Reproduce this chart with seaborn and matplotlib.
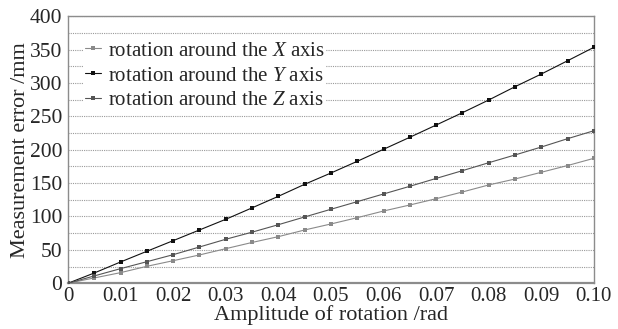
import numpy as np
import pandas as pd
import matplotlib
matplotlib.use("Agg")
import matplotlib.pyplot as plt
import seaborn as sns
from matplotlib.ticker import MultipleLocator

amplitude = [0, 0.005, 0.01, 0.015, 0.02, 0.025, 0.03, 0.035, 0.04, 0.045, 0.05,
             0.055, 0.06, 0.065, 0.07, 0.075, 0.08, 0.085, 0.09, 0.095, 0.1]
err_x = [0, 8, 15.9, 25.4, 33.8, 42.4, 51.8, 61.1, 69.8, 79.8, 88.8,
         98.2, 108.2, 117.2, 126.6, 136.7, 147.2, 156.1, 166.2, 176.3, 187.1]
err_y = [0, 15.4, 31.9, 47.9, 63.8, 79.8, 95.8, 112.9, 130.2, 148.2, 165.1,
         182.6, 200.6, 218.6, 236.9, 255.4, 274.4, 294.3, 313.3, 333.2, 353.3]
err_z = [0, 11, 21.9, 32.3, 42.8, 54.3, 65.9, 76.5, 87.7, 99.3, 110.8,
         122.2, 133.7, 145.2, 157.0, 168.6, 180.5, 192.1, 204.0, 216.5, 228.4]
labels = [r"rotation around the $\mathit{X}$ axis",
          r"rotation around the $\mathit{Y}$ axis",
          r"rotation around the $\mathit{Z}$ axis"]
colors = ["#8a8a8a", "#111111", "#555555"]
x_ticks = [0, 0.01, 0.02, 0.03, 0.04, 0.05, 0.06, 0.07, 0.08, 0.09, 0.10]
x_tick_labels = ["0", "0.01", "0.02", "0.03", "0.04", "0.05", "0.06", "0.07", "0.08", "0.09", "0.10"]

sns.set_style("white")
plt.rcParams["font.family"] = ["Liberation Serif", "DejaVu Serif"]
plt.rcParams["mathtext.fontset"] = "custom"
plt.rcParams["mathtext.it"] = "Liberation Serif:italic"
plt.rcParams["mathtext.rm"] = "Liberation Serif"

df = pd.DataFrame({
    "amp": amplitude * 3,
    "err": err_x + err_y + err_z,
    "series": [labels[0]] * len(amplitude) + [labels[1]] * len(amplitude) + [labels[2]] * len(amplitude),
})

fig = plt.figure(figsize=(6.18, 3.29), dpi=100)
ax = fig.add_axes([0.110, 0.139, 0.851, 0.812])

sns.lineplot(data=df, x="amp", y="err", hue="series", hue_order=labels,
             palette=dict(zip(labels, colors)), style="series",
             markers={l: "s" for l in labels}, dashes=False,
             markersize=2.3, markeredgewidth=0, linewidth=0.8, ax=ax, zorder=3)

ax.set_xlim(0, 0.1)
ax.set_ylim(0, 400)
ax.set_xticks(x_ticks)
ax.set_xticklabels(x_tick_labels)
ax.yaxis.set_major_locator(MultipleLocator(50))
ax.yaxis.set_minor_locator(MultipleLocator(25))
ax.grid(True, axis="y", which="both", linestyle=(0, (1, 1)), color="#9a9a9a", linewidth=0.8)
ax.grid(False, axis="x")
ax.tick_params(axis="x", direction="in", length=5, color="#999999", labelsize=15, pad=3)
ax.tick_params(axis="y", length=0, labelsize=15.5, pad=4)
ax.tick_params(axis="y", which="minor", length=0)
for s in ax.spines.values():
    s.set_color("#8c8c8c")
    s.set_linewidth(1.0)
ax.spines["bottom"].set_linewidth(1.6)
ax.set_xlabel("Amplitude of rotation /rad", fontsize=16, labelpad=-1)
ax.set_ylabel("Measurement error /mm", fontsize=16, labelpad=0)

leg = ax.legend(loc="upper left", bbox_to_anchor=(0.03, 0.91), frameon=True,
                fontsize=15, handlelength=0.8, handletextpad=0.3, labelspacing=0.25,
                borderpad=0.05, borderaxespad=0)
leg.get_frame().set_edgecolor("none")
leg.get_frame().set_facecolor("white")
leg.get_frame().set_alpha(1)

fig.savefig("out.png", dpi=100)
